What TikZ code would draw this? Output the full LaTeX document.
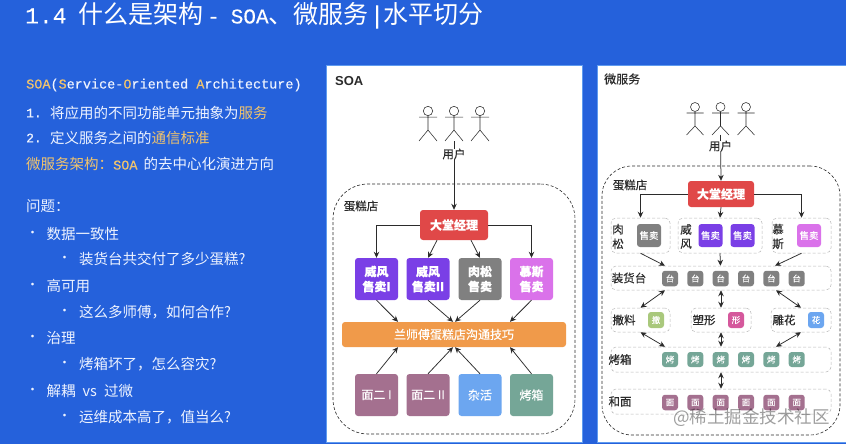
\documentclass[tikz,border=0pt]{standalone}
\usepackage{fontspec}
\setmainfont{Noto Sans CJK SC}
\newfontfamily\mono[FakeBold=0.3]{Liberation Mono}
\newfontfamily\lat{Liberation Sans}
\newfontfamily\med[FakeBold=0.35]{Noto Sans CJK SC}
\usetikzlibrary{arrows.meta,calc}
\definecolor{bgblue}{HTML}{2561DB}
\definecolor{edgeblue}{HTML}{5F9BEF}
\definecolor{gold}{HTML}{F2C46C}
\definecolor{ink}{HTML}{EEF3FF}
\definecolor{mgrred}{HTML}{E04848}
\definecolor{cpurple}{HTML}{7A3FE6}
\definecolor{cgray}{HTML}{808080}
\definecolor{cpink}{HTML}{DA72EA}
\definecolor{cmauve}{HTML}{A4708F}
\definecolor{cblue}{HTML}{6CA6F0}
\definecolor{cteal}{HTML}{75A697}
\definecolor{corange}{HTML}{F09A4A}
\definecolor{cgreen}{HTML}{A9C87C}
\definecolor{crose}{HTML}{D5589C}
\definecolor{dark}{HTML}{2B2B2B}
\newcommand\fs[1]{\fontsize{#1}{#1}\selectfont}
\newcommand\g[1]{\textcolor{gold}{#1}}
\newcommand\lbl[5]{\node[lefttext,text=ink] (#1) at (#2,#3) {\fs{#4}#5};}
\newcommand\bx[7]{\node[boxy,fill=#6,minimum width=#4pt,minimum height=#5pt] (#1) at (#2,#3) {#7};}
\newcommand\grp[5]{\node[grpbox,minimum width=#4pt,minimum height=#5pt] (#1) at (#2,#3) {};}
\newcommand\stick[6]{% x y r armw bodyend legend
  \draw[stickline] (#1,#2) circle (#3pt);
  \draw[stickline] (#1,#2+#3) -- (#1,#5) -- (#1-#4,#6) (#1,#5) -- (#1+#4,#6) (#1-#4,#2+#3+1.5) -- (#1+#4,#2+#3+1.5);
}
\tikzset{
  lefttext/.style={anchor=west,inner sep=0pt},
  boxy/.style={draw=none,rounded corners=3pt,text=white,inner sep=0pt,align=center,font=\med},
  grpbox/.style={draw=gray!55,densely dashed,line width=0.5pt,rounded corners=5pt,inner sep=0pt},
  bigbox/.style={draw=dark,densely dashed,line width=0.6pt,inner sep=0pt},
  stickline/.style={draw=dark,line width=0.55pt,fill=white},
  arr/.style={draw=dark,line width=0.75pt,-{Stealth[length=6pt,width=5.5pt]}},
  darr/.style={draw=dark,line width=0.75pt,{Stealth[length=6pt,width=5.5pt]}-{Stealth[length=6pt,width=5.5pt]}},
  panel/.style={fill=white,draw=edgeblue,line width=0.8pt,inner sep=0pt},
  dark text/.style={inner sep=0pt,text=dark,font=\med},
}
\begin{document}
\begin{tikzpicture}[x=1pt,y=-1pt]
\useasboundingbox (0,0) rectangle (846,444);
\fill[bgblue] (0,0) rectangle (846,444);
% title
\node[lefttext,text=white] (title) at (25,15.5) {\fs{25}{\mono\fs{23}1.4}\hspace{11.6pt}什么是架构\hspace{4pt}{\mono\fs{21}-\hspace{11pt}SOA}、微服务\hspace{1pt}{\mono\fs{25}|}\hspace{-1pt}水平切分};
% left column
\lbl{s1}{26}{85}{14}{{\mono\fs{13.5}\g{SOA}(\g{S}ervice-\g{O}riented \g{A}rchitecture)}}
\lbl{n1}{26}{113}{14.5}{{\mono\fs{13}1.}}
\lbl{s2}{50}{113}{14.5}{将应用的不同功能单元抽象为\g{服务}}
\lbl{n2}{26}{138}{14.5}{{\mono\fs{13}2.}}
\lbl{s3}{50}{138}{14.5}{定义服务之间的\g{通信标准}}
\lbl{s4}{26}{164}{14.5}{\g{微服务架构：}{\mono\fs{13.5}\g{SOA}}\hspace{6pt}的去中心化演进方向}
\lbl{s5}{26}{206}{14.5}{问题：}
\foreach \n/\y/\t in {a/234/数据一致性,b/286/高可用,c/338/治理,d/391/解耦\hspace{7pt}vs\hspace{7pt}过微}{
  \lbl{bu\n}{26}{\y}{13}{•}
  \lbl{tx\n}{46.5}{\y}{14.5}{\t}
}
\foreach \n/\y/\t in {a/259/装货台共交付了多少蛋糕?,b/312/这么多师傅，如何合作?,c/364/烤箱坏了，怎么容灾?,d/417/运维成本高了，值当么?}{
  \lbl{bv\n}{58}{\y}{13}{•}
  \lbl{ty\n}{79}{\y}{14.5}{\t}
}
% SOA panel
\node[panel,minimum width=256pt,minimum height=377pt] (soa) at (454.5,253.5) {};
\node[dark text,anchor=west,font=\lat\bfseries] (soat) at (335,81) {\fs{13}SOA};
\stick{428}{111}{4.7}{9}{130}{141}
\stick{454}{111}{4.7}{9}{130}{141}
\stick{480}{111}{4.7}{9}{130}{141}
\coordinate (ufoot) at (454,141);
\node[bigbox,rounded corners=35pt,minimum width=242pt,minimum height=250pt] (shop) at (454,309) {};
\bx{mgr}{454}{225}{68}{30}{mgrred}{\fs{12}\bfseries 大堂经理}
\draw[arr] (ufoot) -- (mgr.north);
\node[fill=white,inner sep=1.5pt,dark text] (user) at (454,154) {\fs{11.5}用户};
\node[dark text] (shopt) at (361,206) {\fs{11.5}蛋糕店};
\bx{r1}{376.5}{279}{43}{42}{cpurple}{\fs{12}\bfseries 威风\\[3pt]\fs{12}\bfseries 售卖I}
\bx{r2}{428}{279}{43}{42}{cpurple}{\fs{12}\bfseries 威风\\[3pt]\fs{12}\bfseries 售卖II}
\bx{r3}{480}{279}{43}{42}{cgray}{\fs{12}\bfseries 肉松\\[3pt]\fs{12}\bfseries 售卖}
\bx{r4}{531.5}{279}{43}{42}{cpink}{\fs{12}\bfseries 慕斯\\[3pt]\fs{12}\bfseries 售卖}
\bx{bar}{454}{334.5}{224}{25}{corange}{\fs{12}兰师傅蛋糕店沟通技巧}
\bx{q1}{376.5}{395}{43}{42}{cmauve}{\fs{12}面二 I}
\bx{q2}{428}{395}{43}{42}{cmauve}{\fs{12}面二 II}
\bx{q3}{480}{395}{43}{42}{cblue}{\fs{12}杂活}
\bx{q4}{531.5}{395}{43}{42}{cteal}{\fs{12}烤箱}
\draw[arr] (mgr.west) -| (r1.north);
\draw[arr] (mgr.east) -| (r4.north);
\draw[arr] ([xshift=-17pt]mgr.south) -- (r2.north);
\draw[arr] ([xshift=17pt]mgr.south) -- (r3.north);
\draw[arr] (r1.south) -- ([xshift=-56pt]bar.north);
\draw[arr] (r2.south) -- ([xshift=-1pt]bar.north);
\draw[arr] (r3.south) -- ([xshift=1pt]bar.north);
\draw[arr] (r4.south) -- ([xshift=56pt]bar.north);
\draw[arr] (q1.north) -- ([xshift=-56pt]bar.south);
\draw[arr] (q2.north) -- ([xshift=-1pt]bar.south);
\draw[arr] (q3.north) -- ([xshift=1pt]bar.south);
\draw[arr] (q4.north) -- ([xshift=56pt]bar.south);
% microservice panel
\node[panel,minimum width=252pt,minimum height=377pt] (ms) at (723,253.5) {};
\node[dark text,anchor=west] (mst) at (604,79) {\fs{12}微服务};
\stick{695}{107}{4.5}{8.5}{126}{135}
\stick{720.5}{107}{4.5}{8.5}{126}{135}
\stick{746}{107}{4.5}{8.5}{126}{135}
\coordinate (vfoot) at (720.5,135);
\node[bigbox,rounded corners=30pt,minimum width=238pt,minimum height=269pt] (shop2) at (721,300.5) {};
\bx{m2}{721}{194}{66}{26}{mgrred}{\fs{12}\bfseries 大堂经理}
\draw[arr] (vfoot) -- (m2.north);
\node[fill=white,inner sep=1.5pt,dark text] (user2) at (720.5,146) {\fs{11.5}用户};
\node[dark text] (shop2t) at (630,185) {\fs{11.5}蛋糕店};
% groups row 1
\grp{g1}{640.5}{235.5}{59}{35}
\grp{g2}{720}{235.5}{84}{35}
\grp{g3}{801.5}{235.5}{59}{35}
\node[dark text] (g1t) at (618,236.5) {\fs{11.5}\shortstack{肉\\[1pt]松}};
\node[dark text] (g2t) at (686,236.5) {\fs{11.5}\shortstack{威\\[1pt]风}};
\node[dark text] (g3t) at (778,236.5) {\fs{11.5}\shortstack{慕\\[1pt]斯}};
\bx{sm1}{649}{235.5}{24}{23}{cgray}{\fs{9.5}售卖}
\bx{sm2}{710.5}{235.5}{24}{23}{cpurple}{\fs{9.5}售卖}
\bx{sm3}{742.5}{235.5}{24}{23}{cpurple}{\fs{9.5}售卖}
\bx{sm4}{809}{235.5}{24}{23}{cpink}{\fs{9.5}售卖}
% long rows
\grp{g4}{721}{278}{220}{24}
\grp{g8}{721}{359.5}{220}{25}
\grp{g9}{721}{401.5}{220}{25}
\node[dark text] (g4t) at (629,278) {\fs{11.5}装货台};
\node[dark text] (g8t) at (620,359.5) {\fs{11.5}烤箱};
\node[dark text] (g9t) at (620,401.5) {\fs{11.5}和面};
\foreach \i/\x in {1/670,2/695.3,3/720.7,4/746,5/771.3,6/796.7}{
  \bx{ta\i}{\x}{278.5}{16}{15.5}{cgray}{\fs{8.5}台}
  \bx{ka\i}{\x}{359.5}{16}{15}{cteal}{\fs{8.5}烤}
  \bx{mi\i}{\x}{402.5}{16}{15.5}{cmauve}{\fs{8.5}面}
}
% middle row
\grp{g5}{640.5}{320}{59}{24}
\grp{g6}{721}{320}{60}{24}
\grp{g7}{801}{320}{60}{24}
\node[dark text] (g5t) at (624,320) {\fs{11.5}撒料};
\node[dark text] (g6t) at (704,320) {\fs{11.5}塑形};
\node[dark text] (g7t) at (784,320) {\fs{11.5}雕花};
\bx{c1}{656}{320}{16}{16}{cgreen}{\fs{8.5}撒}
\bx{c2}{736}{320}{16}{16}{crose}{\fs{8.5}形}
\bx{c3}{816}{320}{16}{16}{cblue}{\fs{8.5}花}
% arrows
\draw[arr] (m2.west) -| (g1.north);
\draw[arr] (m2.south) -- (g2.north);
\draw[arr] (m2.east) -| (g3.north);
\draw[arr] (g1.south) -- ([xshift=-56pt]g4.north);
\draw[arr] (g2.south) -- ([xshift=-0.5pt]g4.north);
\draw[arr] (g3.south) -- ([xshift=54pt]g4.north);
\draw[darr] ([xshift=-56pt]g4.south) -- (g5.north);
\draw[darr] (g4.south) -- (g6.north);
\draw[darr] ([xshift=55pt]g4.south) -- (g7.north);
\draw[darr] (g5.south) -- ([xshift=-56pt]g8.north);
\draw[darr] (g6.south) -- (g8.north);
\draw[darr] (g7.south) -- ([xshift=55pt]g8.north);
\draw[darr] (g8.south) -- (g9.north);
% watermark
\node[anchor=west,inner sep=0pt,text=black,opacity=0.38] (wm) at (673,418) {\fs{17.5}@稀土掘金技术社区};
\end{tikzpicture}
\end{document}
